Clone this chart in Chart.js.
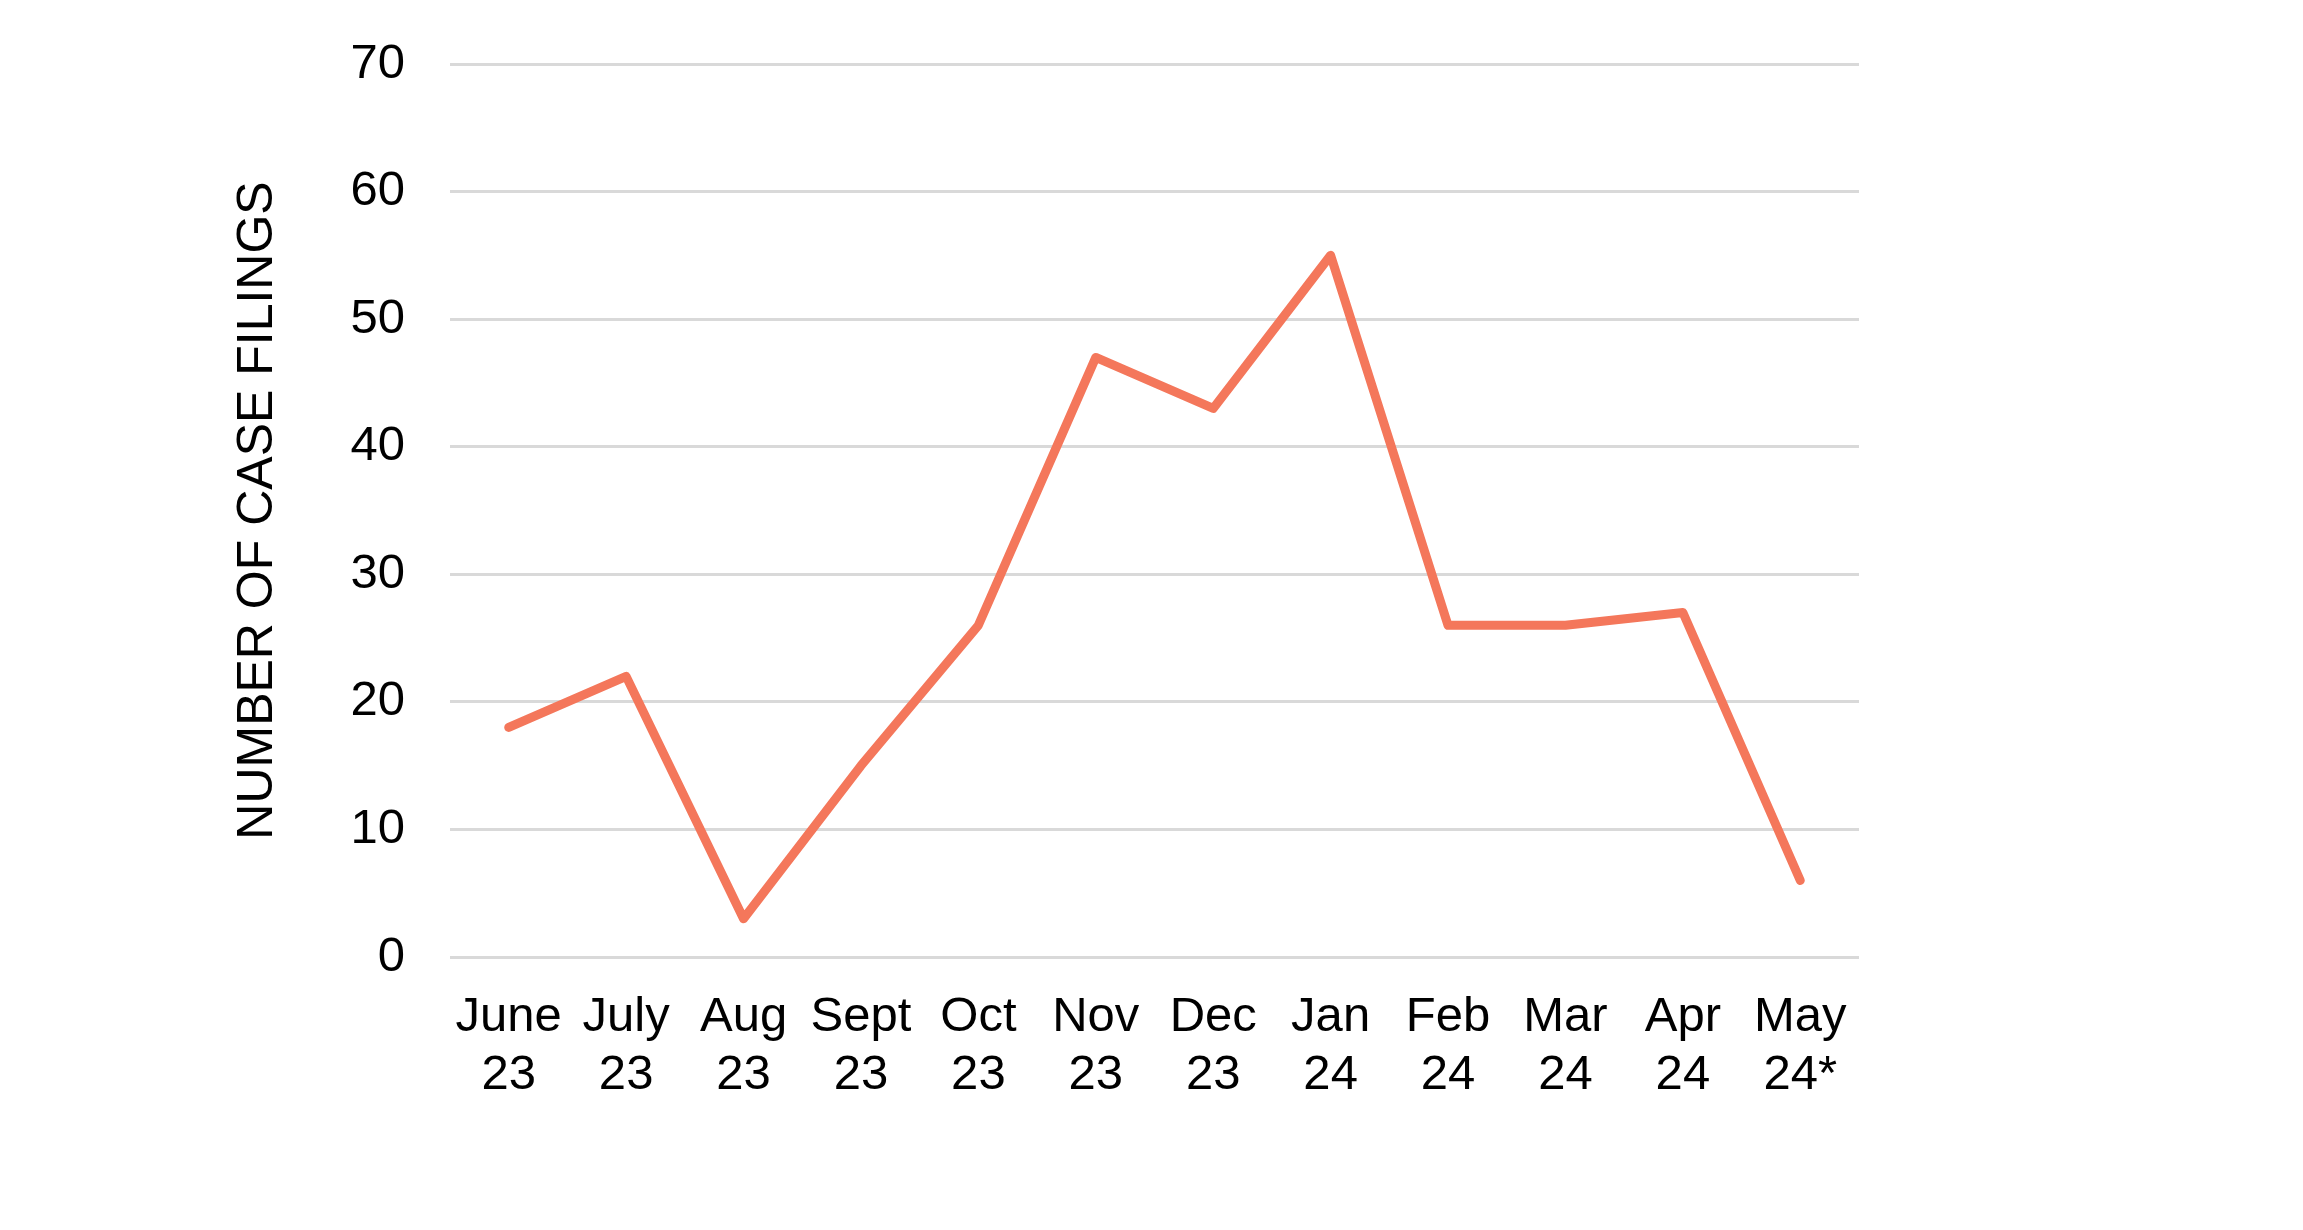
<!DOCTYPE html>
<html>
<head>
<meta charset="utf-8">
<script src="https://cdn.jsdelivr.net/npm/chart.js@4"></script>
<style>
    html, body { margin: 0; padding: 0; background: #ffffff; }
    #grafico { display: block; }
</style>
</head>
<body>
<canvas id="grafico" width="2303" height="1230"></canvas>
<script>
// DATOS
var meses = [['June', '23'], ['July', '23'], ['Aug', '23'], ['Sept', '23'], ['Oct', '23'], ['Nov', '23'],
    ['Dec', '23'], ['Jan', '24'], ['Feb', '24'], ['Mar', '24'], ['Apr', '24'], ['May', '24*']];
var casos = [18, 22, 3, 15, 26, 47, 43, 55, 26, 26, 27, 6];
var tituloEjeY = 'NUMBER OF CASE FILINGS';
var ejeYMin = 0;
var ejeYMax = 70;
var ejeYPaso = 10;

var fuente = '"Liberation Sans", Arial, sans-serif';

function graficarLinea() {
    const datos = {
        labels: meses,
        datasets: [{
            label: tituloEjeY,
            data: casos,
            borderColor: '#F4775B',
            borderWidth: 9,
            borderJoinStyle: 'round',
            borderCapStyle: 'round',
            pointRadius: 0,
            pointHoverRadius: 0,
            fill: false,
            tension: 0
        }]
    };

    const configuracion = {
        type: 'line',
        data: datos,
        options: {
            responsive: false,
            animation: false,
            devicePixelRatio: 1,
            layout: {
                padding: { left: 0, top: 64, right: 444, bottom: 0 }
            },
            plugins: {
                legend: { display: false },
                tooltip: { enabled: false }
            },
            scales: {
                x: {
                    offset: true,
                    grid: { display: false, drawTicks: false },
                    border: { display: false },
                    ticks: {
                        color: '#000000',
                        padding: 32,
                        maxRotation: 0,
                        autoSkip: false,
                        font: { family: fuente, size: 49, lineHeight: 1.18 }
                    },
                    afterFit: function (escala) { escala.height = 1230 - 957; }
                },
                y: {
                    min: ejeYMin,
                    max: ejeYMax,
                    grid: { color: '#D9D9D9', lineWidth: 3, drawTicks: false },
                    border: { display: false },
                    ticks: {
                        stepSize: ejeYPaso,
                        color: '#000000',
                        padding: 45,
                        font: { family: fuente, size: 49 }
                    },
                    title: {
                        display: true,
                        text: tituloEjeY,
                        color: '#000000',
                        padding: { top: 228, bottom: 0 },
                        font: { family: fuente, size: 50, lineHeight: 1.2 }
                    },
                    afterFit: function (escala) {
                        // el padding de los ticks empuja el area hacia abajo
                        escala.width = 450;
                        escala.paddingTop = 0;
                        escala.paddingBottom = 0;
                    }
                }
            }
        }
    };

    const ctx = document.getElementById('grafico').getContext('2d');
    return new Chart(ctx, configuracion);
}

graficarLinea();
</script>
</body>
</html>
